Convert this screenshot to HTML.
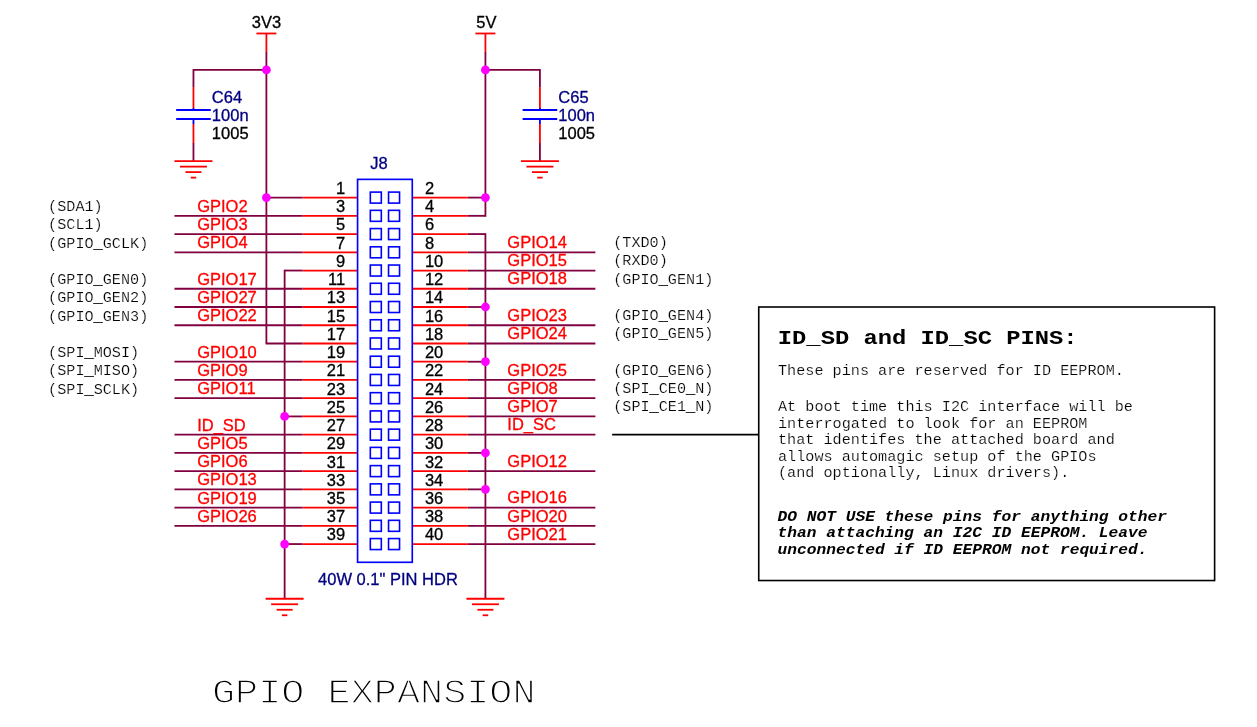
<!DOCTYPE html>
<html lang="en">
<head>
<meta charset="utf-8">
<title>GPIO EXPANSION</title>
<style>
html,body{margin:0;padding:0;background:#fff;}
body{width:1257px;height:727px;overflow:hidden;}
svg{display:block;will-change:transform;}
text{white-space:pre;}
.s{font-family:"Liberation Sans",sans-serif;font-size:16.5px;stroke-width:0.3px;}
.s.k{stroke:#000;}.s.n{stroke:#000080;}.s.r{stroke:#ff0000;}
.u{stroke:#000;stroke-width:0.35px;}
.k{fill:#000;}
.n{fill:#000080;}
.r{fill:#ff0000;}
.m{font-family:"Liberation Mono",monospace;font-size:15.17px;fill:#000;stroke:#fff;stroke-width:0.2px;}
.h{font-family:"Liberation Mono",monospace;font-size:23.8px;font-weight:bold;fill:#000;}
.w{font-family:"Liberation Mono",monospace;font-size:16.25px;font-weight:bold;font-style:italic;fill:#000;}
.t{font-family:"Liberation Mono",monospace;font-size:38.53px;fill:#000;stroke:#fff;stroke-width:1.6px;}
</style>
</head>
<body>
<svg width="1257" height="727" viewBox="0 0 1257 727">
<rect x="0" y="0" width="1257" height="727" fill="#fff"/>
<line x1="266.40" y1="52.00" x2="266.40" y2="343.48" stroke="#800040" stroke-width="1.8" stroke-linecap="butt"/>
<line x1="193.46" y1="69.95" x2="266.40" y2="69.95" stroke="#800040" stroke-width="1.8" stroke-linecap="butt"/>
<line x1="193.46" y1="69.05" x2="193.46" y2="87.50" stroke="#800040" stroke-width="1.8" stroke-linecap="butt"/>
<line x1="193.46" y1="143.00" x2="193.46" y2="161.13" stroke="#800040" stroke-width="1.8" stroke-linecap="butt"/>
<line x1="485.42" y1="52.00" x2="485.42" y2="216.73" stroke="#800040" stroke-width="1.8" stroke-linecap="butt"/>
<line x1="485.42" y1="69.95" x2="539.92" y2="69.95" stroke="#800040" stroke-width="1.8" stroke-linecap="butt"/>
<line x1="539.92" y1="69.05" x2="539.92" y2="87.50" stroke="#800040" stroke-width="1.8" stroke-linecap="butt"/>
<line x1="539.92" y1="143.00" x2="539.92" y2="161.13" stroke="#800040" stroke-width="1.8" stroke-linecap="butt"/>
<line x1="284.63" y1="269.64" x2="284.63" y2="598.77" stroke="#800040" stroke-width="1.8" stroke-linecap="butt"/>
<line x1="485.42" y1="233.17" x2="485.42" y2="598.77" stroke="#800040" stroke-width="1.8" stroke-linecap="butt"/>
<line x1="266.40" y1="197.60" x2="302.67" y2="197.60" stroke="#800040" stroke-width="1.8" stroke-linecap="butt"/>
<line x1="467.80" y1="197.60" x2="485.42" y2="197.60" stroke="#800040" stroke-width="1.8" stroke-linecap="butt"/>
<line x1="174.47" y1="215.83" x2="302.67" y2="215.83" stroke="#800040" stroke-width="1.8" stroke-linecap="butt"/>
<line x1="467.80" y1="215.83" x2="485.42" y2="215.83" stroke="#800040" stroke-width="1.8" stroke-linecap="butt"/>
<line x1="174.47" y1="234.07" x2="302.67" y2="234.07" stroke="#800040" stroke-width="1.8" stroke-linecap="butt"/>
<line x1="467.80" y1="234.07" x2="485.42" y2="234.07" stroke="#800040" stroke-width="1.8" stroke-linecap="butt"/>
<line x1="174.47" y1="252.31" x2="302.67" y2="252.31" stroke="#800040" stroke-width="1.8" stroke-linecap="butt"/>
<line x1="467.80" y1="252.31" x2="595.38" y2="252.31" stroke="#800040" stroke-width="1.8" stroke-linecap="butt"/>
<line x1="284.63" y1="270.54" x2="302.67" y2="270.54" stroke="#800040" stroke-width="1.8" stroke-linecap="butt"/>
<line x1="467.80" y1="270.54" x2="595.38" y2="270.54" stroke="#800040" stroke-width="1.8" stroke-linecap="butt"/>
<line x1="174.47" y1="288.77" x2="302.67" y2="288.77" stroke="#800040" stroke-width="1.8" stroke-linecap="butt"/>
<line x1="467.80" y1="288.77" x2="595.38" y2="288.77" stroke="#800040" stroke-width="1.8" stroke-linecap="butt"/>
<line x1="174.47" y1="307.01" x2="302.67" y2="307.01" stroke="#800040" stroke-width="1.8" stroke-linecap="butt"/>
<line x1="467.80" y1="307.01" x2="485.42" y2="307.01" stroke="#800040" stroke-width="1.8" stroke-linecap="butt"/>
<line x1="174.47" y1="325.25" x2="302.67" y2="325.25" stroke="#800040" stroke-width="1.8" stroke-linecap="butt"/>
<line x1="467.80" y1="325.25" x2="595.38" y2="325.25" stroke="#800040" stroke-width="1.8" stroke-linecap="butt"/>
<line x1="265.65" y1="343.48" x2="302.67" y2="343.48" stroke="#800040" stroke-width="1.8" stroke-linecap="butt"/>
<line x1="467.80" y1="343.48" x2="595.38" y2="343.48" stroke="#800040" stroke-width="1.8" stroke-linecap="butt"/>
<line x1="174.47" y1="361.72" x2="302.67" y2="361.72" stroke="#800040" stroke-width="1.8" stroke-linecap="butt"/>
<line x1="467.80" y1="361.72" x2="485.42" y2="361.72" stroke="#800040" stroke-width="1.8" stroke-linecap="butt"/>
<line x1="174.47" y1="379.95" x2="302.67" y2="379.95" stroke="#800040" stroke-width="1.8" stroke-linecap="butt"/>
<line x1="467.80" y1="379.95" x2="595.38" y2="379.95" stroke="#800040" stroke-width="1.8" stroke-linecap="butt"/>
<line x1="174.47" y1="398.18" x2="302.67" y2="398.18" stroke="#800040" stroke-width="1.8" stroke-linecap="butt"/>
<line x1="467.80" y1="398.18" x2="595.38" y2="398.18" stroke="#800040" stroke-width="1.8" stroke-linecap="butt"/>
<line x1="284.63" y1="416.42" x2="302.67" y2="416.42" stroke="#800040" stroke-width="1.8" stroke-linecap="butt"/>
<line x1="467.80" y1="416.42" x2="595.38" y2="416.42" stroke="#800040" stroke-width="1.8" stroke-linecap="butt"/>
<line x1="174.47" y1="434.65" x2="302.67" y2="434.65" stroke="#800040" stroke-width="1.8" stroke-linecap="butt"/>
<line x1="467.80" y1="434.65" x2="595.38" y2="434.65" stroke="#800040" stroke-width="1.8" stroke-linecap="butt"/>
<line x1="174.47" y1="452.89" x2="302.67" y2="452.89" stroke="#800040" stroke-width="1.8" stroke-linecap="butt"/>
<line x1="467.80" y1="452.89" x2="485.42" y2="452.89" stroke="#800040" stroke-width="1.8" stroke-linecap="butt"/>
<line x1="174.47" y1="471.12" x2="302.67" y2="471.12" stroke="#800040" stroke-width="1.8" stroke-linecap="butt"/>
<line x1="467.80" y1="471.12" x2="595.38" y2="471.12" stroke="#800040" stroke-width="1.8" stroke-linecap="butt"/>
<line x1="174.47" y1="489.36" x2="302.67" y2="489.36" stroke="#800040" stroke-width="1.8" stroke-linecap="butt"/>
<line x1="467.80" y1="489.36" x2="485.42" y2="489.36" stroke="#800040" stroke-width="1.8" stroke-linecap="butt"/>
<line x1="174.47" y1="507.60" x2="302.67" y2="507.60" stroke="#800040" stroke-width="1.8" stroke-linecap="butt"/>
<line x1="467.80" y1="507.60" x2="595.38" y2="507.60" stroke="#800040" stroke-width="1.8" stroke-linecap="butt"/>
<line x1="174.47" y1="525.83" x2="302.67" y2="525.83" stroke="#800040" stroke-width="1.8" stroke-linecap="butt"/>
<line x1="467.80" y1="525.83" x2="595.38" y2="525.83" stroke="#800040" stroke-width="1.8" stroke-linecap="butt"/>
<line x1="284.63" y1="544.06" x2="302.67" y2="544.06" stroke="#800040" stroke-width="1.8" stroke-linecap="butt"/>
<line x1="467.80" y1="544.06" x2="595.38" y2="544.06" stroke="#800040" stroke-width="1.8" stroke-linecap="butt"/>
<line x1="302.67" y1="197.60" x2="357.57" y2="197.60" stroke="#ff0000" stroke-width="1.8" stroke-linecap="butt"/>
<line x1="412.28" y1="197.60" x2="467.80" y2="197.60" stroke="#ff0000" stroke-width="1.8" stroke-linecap="butt"/>
<line x1="302.67" y1="215.83" x2="357.57" y2="215.83" stroke="#ff0000" stroke-width="1.8" stroke-linecap="butt"/>
<line x1="412.28" y1="215.83" x2="467.80" y2="215.83" stroke="#ff0000" stroke-width="1.8" stroke-linecap="butt"/>
<line x1="302.67" y1="234.07" x2="357.57" y2="234.07" stroke="#ff0000" stroke-width="1.8" stroke-linecap="butt"/>
<line x1="412.28" y1="234.07" x2="467.80" y2="234.07" stroke="#ff0000" stroke-width="1.8" stroke-linecap="butt"/>
<line x1="302.67" y1="252.31" x2="357.57" y2="252.31" stroke="#ff0000" stroke-width="1.8" stroke-linecap="butt"/>
<line x1="412.28" y1="252.31" x2="467.80" y2="252.31" stroke="#ff0000" stroke-width="1.8" stroke-linecap="butt"/>
<line x1="302.67" y1="270.54" x2="357.57" y2="270.54" stroke="#ff0000" stroke-width="1.8" stroke-linecap="butt"/>
<line x1="412.28" y1="270.54" x2="467.80" y2="270.54" stroke="#ff0000" stroke-width="1.8" stroke-linecap="butt"/>
<line x1="302.67" y1="288.77" x2="357.57" y2="288.77" stroke="#ff0000" stroke-width="1.8" stroke-linecap="butt"/>
<line x1="412.28" y1="288.77" x2="467.80" y2="288.77" stroke="#ff0000" stroke-width="1.8" stroke-linecap="butt"/>
<line x1="302.67" y1="307.01" x2="357.57" y2="307.01" stroke="#ff0000" stroke-width="1.8" stroke-linecap="butt"/>
<line x1="412.28" y1="307.01" x2="467.80" y2="307.01" stroke="#ff0000" stroke-width="1.8" stroke-linecap="butt"/>
<line x1="302.67" y1="325.25" x2="357.57" y2="325.25" stroke="#ff0000" stroke-width="1.8" stroke-linecap="butt"/>
<line x1="412.28" y1="325.25" x2="467.80" y2="325.25" stroke="#ff0000" stroke-width="1.8" stroke-linecap="butt"/>
<line x1="302.67" y1="343.48" x2="357.57" y2="343.48" stroke="#ff0000" stroke-width="1.8" stroke-linecap="butt"/>
<line x1="412.28" y1="343.48" x2="467.80" y2="343.48" stroke="#ff0000" stroke-width="1.8" stroke-linecap="butt"/>
<line x1="302.67" y1="361.72" x2="357.57" y2="361.72" stroke="#ff0000" stroke-width="1.8" stroke-linecap="butt"/>
<line x1="412.28" y1="361.72" x2="467.80" y2="361.72" stroke="#ff0000" stroke-width="1.8" stroke-linecap="butt"/>
<line x1="302.67" y1="379.95" x2="357.57" y2="379.95" stroke="#ff0000" stroke-width="1.8" stroke-linecap="butt"/>
<line x1="412.28" y1="379.95" x2="467.80" y2="379.95" stroke="#ff0000" stroke-width="1.8" stroke-linecap="butt"/>
<line x1="302.67" y1="398.18" x2="357.57" y2="398.18" stroke="#ff0000" stroke-width="1.8" stroke-linecap="butt"/>
<line x1="412.28" y1="398.18" x2="467.80" y2="398.18" stroke="#ff0000" stroke-width="1.8" stroke-linecap="butt"/>
<line x1="302.67" y1="416.42" x2="357.57" y2="416.42" stroke="#ff0000" stroke-width="1.8" stroke-linecap="butt"/>
<line x1="412.28" y1="416.42" x2="467.80" y2="416.42" stroke="#ff0000" stroke-width="1.8" stroke-linecap="butt"/>
<line x1="302.67" y1="434.65" x2="357.57" y2="434.65" stroke="#ff0000" stroke-width="1.8" stroke-linecap="butt"/>
<line x1="412.28" y1="434.65" x2="467.80" y2="434.65" stroke="#ff0000" stroke-width="1.8" stroke-linecap="butt"/>
<line x1="302.67" y1="452.89" x2="357.57" y2="452.89" stroke="#ff0000" stroke-width="1.8" stroke-linecap="butt"/>
<line x1="412.28" y1="452.89" x2="467.80" y2="452.89" stroke="#ff0000" stroke-width="1.8" stroke-linecap="butt"/>
<line x1="302.67" y1="471.12" x2="357.57" y2="471.12" stroke="#ff0000" stroke-width="1.8" stroke-linecap="butt"/>
<line x1="412.28" y1="471.12" x2="467.80" y2="471.12" stroke="#ff0000" stroke-width="1.8" stroke-linecap="butt"/>
<line x1="302.67" y1="489.36" x2="357.57" y2="489.36" stroke="#ff0000" stroke-width="1.8" stroke-linecap="butt"/>
<line x1="412.28" y1="489.36" x2="467.80" y2="489.36" stroke="#ff0000" stroke-width="1.8" stroke-linecap="butt"/>
<line x1="302.67" y1="507.60" x2="357.57" y2="507.60" stroke="#ff0000" stroke-width="1.8" stroke-linecap="butt"/>
<line x1="412.28" y1="507.60" x2="467.80" y2="507.60" stroke="#ff0000" stroke-width="1.8" stroke-linecap="butt"/>
<line x1="302.67" y1="525.83" x2="357.57" y2="525.83" stroke="#ff0000" stroke-width="1.8" stroke-linecap="butt"/>
<line x1="412.28" y1="525.83" x2="467.80" y2="525.83" stroke="#ff0000" stroke-width="1.8" stroke-linecap="butt"/>
<line x1="302.67" y1="544.06" x2="357.57" y2="544.06" stroke="#ff0000" stroke-width="1.8" stroke-linecap="butt"/>
<line x1="412.28" y1="544.06" x2="467.80" y2="544.06" stroke="#ff0000" stroke-width="1.8" stroke-linecap="butt"/>
<line x1="256.40" y1="33.48" x2="276.40" y2="33.48" stroke="#ff0000" stroke-width="1.8" stroke-linecap="butt"/>
<line x1="266.40" y1="33.48" x2="266.40" y2="52.30" stroke="#ff0000" stroke-width="1.8" stroke-linecap="butt"/>
<line x1="475.42" y1="33.48" x2="495.42" y2="33.48" stroke="#ff0000" stroke-width="1.8" stroke-linecap="butt"/>
<line x1="485.42" y1="33.48" x2="485.42" y2="52.30" stroke="#ff0000" stroke-width="1.8" stroke-linecap="butt"/>
<line x1="193.46" y1="87.30" x2="193.46" y2="108.20" stroke="#ff0000" stroke-width="1.8" stroke-linecap="butt"/>
<line x1="193.46" y1="123.70" x2="193.46" y2="143.20" stroke="#ff0000" stroke-width="1.8" stroke-linecap="butt"/>
<line x1="193.46" y1="108.00" x2="193.46" y2="110.00" stroke="#0000ff" stroke-width="1.8" stroke-linecap="butt"/>
<line x1="193.46" y1="119.00" x2="193.46" y2="124.00" stroke="#0000ff" stroke-width="1.8" stroke-linecap="butt"/>
<line x1="176.16" y1="110.00" x2="210.76" y2="110.00" stroke="#0000ff" stroke-width="1.8" stroke-linecap="butt"/>
<line x1="176.16" y1="119.00" x2="210.76" y2="119.00" stroke="#0000ff" stroke-width="1.8" stroke-linecap="butt"/>
<line x1="174.46" y1="161.13" x2="212.46" y2="161.13" stroke="#ff0000" stroke-width="1.8" stroke-linecap="butt"/>
<line x1="179.96" y1="166.63" x2="206.96" y2="166.63" stroke="#ff0000" stroke-width="1.8" stroke-linecap="butt"/>
<line x1="185.46" y1="172.13" x2="201.46" y2="172.13" stroke="#ff0000" stroke-width="1.8" stroke-linecap="butt"/>
<line x1="190.71" y1="177.63" x2="196.21" y2="177.63" stroke="#ff0000" stroke-width="1.8" stroke-linecap="butt"/>
<line x1="539.92" y1="87.30" x2="539.92" y2="108.20" stroke="#ff0000" stroke-width="1.8" stroke-linecap="butt"/>
<line x1="539.92" y1="123.70" x2="539.92" y2="143.20" stroke="#ff0000" stroke-width="1.8" stroke-linecap="butt"/>
<line x1="539.92" y1="108.00" x2="539.92" y2="110.00" stroke="#0000ff" stroke-width="1.8" stroke-linecap="butt"/>
<line x1="539.92" y1="119.00" x2="539.92" y2="124.00" stroke="#0000ff" stroke-width="1.8" stroke-linecap="butt"/>
<line x1="522.62" y1="110.00" x2="557.22" y2="110.00" stroke="#0000ff" stroke-width="1.8" stroke-linecap="butt"/>
<line x1="522.62" y1="119.00" x2="557.22" y2="119.00" stroke="#0000ff" stroke-width="1.8" stroke-linecap="butt"/>
<line x1="520.92" y1="161.13" x2="558.92" y2="161.13" stroke="#ff0000" stroke-width="1.8" stroke-linecap="butt"/>
<line x1="526.42" y1="166.63" x2="553.42" y2="166.63" stroke="#ff0000" stroke-width="1.8" stroke-linecap="butt"/>
<line x1="531.92" y1="172.13" x2="547.92" y2="172.13" stroke="#ff0000" stroke-width="1.8" stroke-linecap="butt"/>
<line x1="537.17" y1="177.63" x2="542.67" y2="177.63" stroke="#ff0000" stroke-width="1.8" stroke-linecap="butt"/>
<line x1="265.63" y1="598.77" x2="303.63" y2="598.77" stroke="#ff0000" stroke-width="1.8" stroke-linecap="butt"/>
<line x1="271.13" y1="604.27" x2="298.13" y2="604.27" stroke="#ff0000" stroke-width="1.8" stroke-linecap="butt"/>
<line x1="276.63" y1="609.77" x2="292.63" y2="609.77" stroke="#ff0000" stroke-width="1.8" stroke-linecap="butt"/>
<line x1="281.88" y1="615.27" x2="287.38" y2="615.27" stroke="#ff0000" stroke-width="1.8" stroke-linecap="butt"/>
<line x1="466.42" y1="598.77" x2="504.42" y2="598.77" stroke="#ff0000" stroke-width="1.8" stroke-linecap="butt"/>
<line x1="471.92" y1="604.27" x2="498.92" y2="604.27" stroke="#ff0000" stroke-width="1.8" stroke-linecap="butt"/>
<line x1="477.42" y1="609.77" x2="493.42" y2="609.77" stroke="#ff0000" stroke-width="1.8" stroke-linecap="butt"/>
<line x1="482.67" y1="615.27" x2="488.17" y2="615.27" stroke="#ff0000" stroke-width="1.8" stroke-linecap="butt"/>
<rect x="357.57" y="179.37" width="54.71" height="382.93" fill="none" stroke="#0000ff" stroke-width="1.65"/>
<rect x="370.31" y="192.10" width="11" height="11" fill="none" stroke="#0000ff" stroke-width="1.6"/>
<rect x="388.54" y="192.10" width="11" height="11" fill="none" stroke="#0000ff" stroke-width="1.6"/>
<rect x="370.31" y="210.33" width="11" height="11" fill="none" stroke="#0000ff" stroke-width="1.6"/>
<rect x="388.54" y="210.33" width="11" height="11" fill="none" stroke="#0000ff" stroke-width="1.6"/>
<rect x="370.31" y="228.57" width="11" height="11" fill="none" stroke="#0000ff" stroke-width="1.6"/>
<rect x="388.54" y="228.57" width="11" height="11" fill="none" stroke="#0000ff" stroke-width="1.6"/>
<rect x="370.31" y="246.81" width="11" height="11" fill="none" stroke="#0000ff" stroke-width="1.6"/>
<rect x="388.54" y="246.81" width="11" height="11" fill="none" stroke="#0000ff" stroke-width="1.6"/>
<rect x="370.31" y="265.04" width="11" height="11" fill="none" stroke="#0000ff" stroke-width="1.6"/>
<rect x="388.54" y="265.04" width="11" height="11" fill="none" stroke="#0000ff" stroke-width="1.6"/>
<rect x="370.31" y="283.27" width="11" height="11" fill="none" stroke="#0000ff" stroke-width="1.6"/>
<rect x="388.54" y="283.27" width="11" height="11" fill="none" stroke="#0000ff" stroke-width="1.6"/>
<rect x="370.31" y="301.51" width="11" height="11" fill="none" stroke="#0000ff" stroke-width="1.6"/>
<rect x="388.54" y="301.51" width="11" height="11" fill="none" stroke="#0000ff" stroke-width="1.6"/>
<rect x="370.31" y="319.75" width="11" height="11" fill="none" stroke="#0000ff" stroke-width="1.6"/>
<rect x="388.54" y="319.75" width="11" height="11" fill="none" stroke="#0000ff" stroke-width="1.6"/>
<rect x="370.31" y="337.98" width="11" height="11" fill="none" stroke="#0000ff" stroke-width="1.6"/>
<rect x="388.54" y="337.98" width="11" height="11" fill="none" stroke="#0000ff" stroke-width="1.6"/>
<rect x="370.31" y="356.22" width="11" height="11" fill="none" stroke="#0000ff" stroke-width="1.6"/>
<rect x="388.54" y="356.22" width="11" height="11" fill="none" stroke="#0000ff" stroke-width="1.6"/>
<rect x="370.31" y="374.45" width="11" height="11" fill="none" stroke="#0000ff" stroke-width="1.6"/>
<rect x="388.54" y="374.45" width="11" height="11" fill="none" stroke="#0000ff" stroke-width="1.6"/>
<rect x="370.31" y="392.68" width="11" height="11" fill="none" stroke="#0000ff" stroke-width="1.6"/>
<rect x="388.54" y="392.68" width="11" height="11" fill="none" stroke="#0000ff" stroke-width="1.6"/>
<rect x="370.31" y="410.92" width="11" height="11" fill="none" stroke="#0000ff" stroke-width="1.6"/>
<rect x="388.54" y="410.92" width="11" height="11" fill="none" stroke="#0000ff" stroke-width="1.6"/>
<rect x="370.31" y="429.15" width="11" height="11" fill="none" stroke="#0000ff" stroke-width="1.6"/>
<rect x="388.54" y="429.15" width="11" height="11" fill="none" stroke="#0000ff" stroke-width="1.6"/>
<rect x="370.31" y="447.39" width="11" height="11" fill="none" stroke="#0000ff" stroke-width="1.6"/>
<rect x="388.54" y="447.39" width="11" height="11" fill="none" stroke="#0000ff" stroke-width="1.6"/>
<rect x="370.31" y="465.62" width="11" height="11" fill="none" stroke="#0000ff" stroke-width="1.6"/>
<rect x="388.54" y="465.62" width="11" height="11" fill="none" stroke="#0000ff" stroke-width="1.6"/>
<rect x="370.31" y="483.86" width="11" height="11" fill="none" stroke="#0000ff" stroke-width="1.6"/>
<rect x="388.54" y="483.86" width="11" height="11" fill="none" stroke="#0000ff" stroke-width="1.6"/>
<rect x="370.31" y="502.10" width="11" height="11" fill="none" stroke="#0000ff" stroke-width="1.6"/>
<rect x="388.54" y="502.10" width="11" height="11" fill="none" stroke="#0000ff" stroke-width="1.6"/>
<rect x="370.31" y="520.33" width="11" height="11" fill="none" stroke="#0000ff" stroke-width="1.6"/>
<rect x="388.54" y="520.33" width="11" height="11" fill="none" stroke="#0000ff" stroke-width="1.6"/>
<rect x="370.31" y="538.56" width="11" height="11" fill="none" stroke="#0000ff" stroke-width="1.6"/>
<rect x="388.54" y="538.56" width="11" height="11" fill="none" stroke="#0000ff" stroke-width="1.6"/>
<circle cx="266.40" cy="69.95" r="4.4" fill="#ff00ff"/>
<circle cx="485.42" cy="69.95" r="4.4" fill="#ff00ff"/>
<circle cx="266.40" cy="197.60" r="4.4" fill="#ff00ff"/>
<circle cx="485.42" cy="197.60" r="4.4" fill="#ff00ff"/>
<circle cx="485.42" cy="307.01" r="4.4" fill="#ff00ff"/>
<circle cx="485.42" cy="361.72" r="4.4" fill="#ff00ff"/>
<circle cx="284.63" cy="416.42" r="4.4" fill="#ff00ff"/>
<circle cx="485.42" cy="452.89" r="4.4" fill="#ff00ff"/>
<circle cx="485.42" cy="489.36" r="4.4" fill="#ff00ff"/>
<circle cx="284.63" cy="544.06" r="4.4" fill="#ff00ff"/>
<line x1="612.12" y1="434.65" x2="758.74" y2="434.65" stroke="#000" stroke-width="1.8" stroke-linecap="butt"/>
<rect x="758.74" y="307.01" width="455.88" height="273.52" fill="none" stroke="#000" stroke-width="1.6"/>
<text x="266.40" y="27.80" class="s k" text-anchor="middle">3V3</text>
<text x="486.32" y="27.80" class="s k" text-anchor="middle">5V</text>
<text x="211.86" y="102.50" class="s n">C64</text>
<text x="211.86" y="120.80" class="s n">100n</text>
<text x="211.86" y="139.00" class="s k">1005</text>
<text x="558.32" y="102.50" class="s n">C65</text>
<text x="558.32" y="120.80" class="s n">100n</text>
<text x="558.32" y="139.00" class="s k">1005</text>
<text x="370.30" y="168.50" class="s n">J8</text>
<text x="318.10" y="584.60" class="s n">40W 0.1&quot; PIN HDR</text>
<text x="345.20" y="194.00" class="s k" text-anchor="end">1</text>
<text x="424.90" y="194.00" class="s k">2</text>
<text x="345.20" y="212.23" class="s k" text-anchor="end">3</text>
<text x="424.90" y="212.23" class="s k">4</text>
<text x="197.20" y="211.83" class="s r">GPIO2</text>
<text transform="translate(48.10 211.23) scale(1 0.94)" class="m">(SDA1)</text>
<text x="345.20" y="230.47" class="s k" text-anchor="end">5</text>
<text x="424.90" y="230.47" class="s k">6</text>
<text x="197.20" y="230.07" class="s r">GPIO3</text>
<text transform="translate(48.10 229.47) scale(1 0.94)" class="m">(SCL1)</text>
<text x="345.20" y="248.71" class="s k" text-anchor="end">7</text>
<text x="424.90" y="248.71" class="s k">8</text>
<text x="197.20" y="248.31" class="s r">GPIO4</text>
<text transform="translate(48.10 247.71) scale(1 0.94)" class="m">(GPIO<tspan class="u">_</tspan>GCLK)</text>
<text x="507.30" y="248.01" class="s r">GPIO14</text>
<text transform="translate(613.20 247.21) scale(1 0.94)" class="m">(TXD0)</text>
<text x="345.20" y="266.94" class="s k" text-anchor="end">9</text>
<text x="424.90" y="266.94" class="s k">10</text>
<text x="507.30" y="266.24" class="s r">GPIO15</text>
<text transform="translate(613.20 265.44) scale(1 0.94)" class="m">(RXD0)</text>
<text x="345.20" y="285.17" class="s k" text-anchor="end">11</text>
<text x="424.90" y="285.17" class="s k">12</text>
<text x="197.20" y="284.77" class="s r">GPIO17</text>
<text transform="translate(48.10 284.17) scale(1 0.94)" class="m">(GPIO<tspan class="u">_</tspan>GEN0)</text>
<text x="507.30" y="284.47" class="s r">GPIO18</text>
<text transform="translate(613.20 283.67) scale(1 0.94)" class="m">(GPIO<tspan class="u">_</tspan>GEN1)</text>
<text x="345.20" y="303.41" class="s k" text-anchor="end">13</text>
<text x="424.90" y="303.41" class="s k">14</text>
<text x="197.20" y="303.01" class="s r">GPIO27</text>
<text transform="translate(48.10 302.41) scale(1 0.94)" class="m">(GPIO<tspan class="u">_</tspan>GEN2)</text>
<text x="345.20" y="321.65" class="s k" text-anchor="end">15</text>
<text x="424.90" y="321.65" class="s k">16</text>
<text x="197.20" y="321.25" class="s r">GPIO22</text>
<text transform="translate(48.10 320.65) scale(1 0.94)" class="m">(GPIO<tspan class="u">_</tspan>GEN3)</text>
<text x="507.30" y="320.95" class="s r">GPIO23</text>
<text transform="translate(613.20 320.15) scale(1 0.94)" class="m">(GPIO<tspan class="u">_</tspan>GEN4)</text>
<text x="345.20" y="339.88" class="s k" text-anchor="end">17</text>
<text x="424.90" y="339.88" class="s k">18</text>
<text x="507.30" y="339.18" class="s r">GPIO24</text>
<text transform="translate(613.20 338.38) scale(1 0.94)" class="m">(GPIO<tspan class="u">_</tspan>GEN5)</text>
<text x="345.20" y="358.12" class="s k" text-anchor="end">19</text>
<text x="424.90" y="358.12" class="s k">20</text>
<text x="197.20" y="357.72" class="s r">GPIO10</text>
<text transform="translate(48.10 357.12) scale(1 0.94)" class="m">(SPI<tspan class="u">_</tspan>MOSI)</text>
<text x="345.20" y="376.35" class="s k" text-anchor="end">21</text>
<text x="424.90" y="376.35" class="s k">22</text>
<text x="197.20" y="375.95" class="s r">GPIO9</text>
<text transform="translate(48.10 375.35) scale(1 0.94)" class="m">(SPI<tspan class="u">_</tspan>MISO)</text>
<text x="507.30" y="375.65" class="s r">GPIO25</text>
<text transform="translate(613.20 374.85) scale(1 0.94)" class="m">(GPIO<tspan class="u">_</tspan>GEN6)</text>
<text x="345.20" y="394.58" class="s k" text-anchor="end">23</text>
<text x="424.90" y="394.58" class="s k">24</text>
<text x="197.20" y="394.18" class="s r">GPIO11</text>
<text transform="translate(48.10 393.58) scale(1 0.94)" class="m">(SPI<tspan class="u">_</tspan>SCLK)</text>
<text x="507.30" y="393.88" class="s r">GPIO8</text>
<text transform="translate(613.20 393.08) scale(1 0.94)" class="m">(SPI<tspan class="u">_</tspan>CE0<tspan class="u">_</tspan>N)</text>
<text x="345.20" y="412.82" class="s k" text-anchor="end">25</text>
<text x="424.90" y="412.82" class="s k">26</text>
<text x="507.30" y="412.12" class="s r">GPIO7</text>
<text transform="translate(613.20 411.32) scale(1 0.94)" class="m">(SPI<tspan class="u">_</tspan>CE1<tspan class="u">_</tspan>N)</text>
<text x="345.20" y="431.05" class="s k" text-anchor="end">27</text>
<text x="424.90" y="431.05" class="s k">28</text>
<text x="197.20" y="430.65" class="s r">ID_SD</text>
<text x="507.30" y="430.35" class="s r">ID_SC</text>
<text x="345.20" y="449.29" class="s k" text-anchor="end">29</text>
<text x="424.90" y="449.29" class="s k">30</text>
<text x="197.20" y="448.89" class="s r">GPIO5</text>
<text x="345.20" y="467.52" class="s k" text-anchor="end">31</text>
<text x="424.90" y="467.52" class="s k">32</text>
<text x="197.20" y="467.12" class="s r">GPIO6</text>
<text x="507.30" y="466.82" class="s r">GPIO12</text>
<text x="345.20" y="485.76" class="s k" text-anchor="end">33</text>
<text x="424.90" y="485.76" class="s k">34</text>
<text x="197.20" y="485.36" class="s r">GPIO13</text>
<text x="345.20" y="504.00" class="s k" text-anchor="end">35</text>
<text x="424.90" y="504.00" class="s k">36</text>
<text x="197.20" y="503.60" class="s r">GPIO19</text>
<text x="507.30" y="503.30" class="s r">GPIO16</text>
<text x="345.20" y="522.23" class="s k" text-anchor="end">37</text>
<text x="424.90" y="522.23" class="s k">38</text>
<text x="197.20" y="521.83" class="s r">GPIO26</text>
<text x="507.30" y="521.53" class="s r">GPIO20</text>
<text x="345.20" y="540.46" class="s k" text-anchor="end">39</text>
<text x="424.90" y="540.46" class="s k">40</text>
<text x="507.30" y="539.76" class="s r">GPIO21</text>
<text transform="translate(777.80 344.30) scale(1 0.86)" class="h">ID_SD and ID_SC PINS:</text>
<text transform="translate(778.00 375.00) scale(1 0.94)" class="m">These pins are reserved for ID EEPROM.</text>
<text transform="translate(778.00 411.25) scale(1 0.94)" class="m">At boot time this I2C interface will be</text>
<text transform="translate(778.00 427.67) scale(1 0.94)" class="m">interrogated to look for an EEPROM</text>
<text transform="translate(778.00 444.09) scale(1 0.94)" class="m">that identifes the attached board and</text>
<text transform="translate(778.00 460.51) scale(1 0.94)" class="m">allows automagic setup of the GPIOs</text>
<text transform="translate(778.00 476.93) scale(1 0.94)" class="m">(and optionally, Linux drivers).</text>
<text transform="translate(777.50 520.90) scale(1 0.9)" class="w">DO NOT USE these pins for anything other</text>
<text transform="translate(777.50 537.30) scale(1 0.9)" class="w">than attaching an I2C ID EEPROM. Leave</text>
<text transform="translate(777.50 553.70) scale(1 0.9)" class="w">unconnected if ID EEPROM not required.</text>
<text transform="translate(212.00 702.90) scale(1 0.906)" class="t">GPIO EXPANSION</text>
</svg>
</body>
</html>
